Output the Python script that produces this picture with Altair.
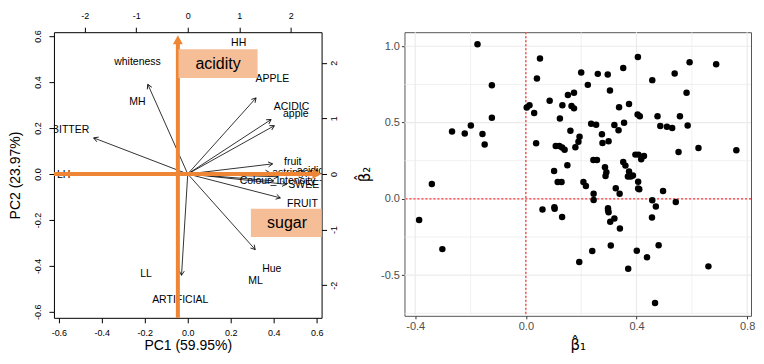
import math
import altair as alt
import pandas as pd

FONT = "Liberation Sans"

# ---------------- left panel: biplot ----------------
arrow_pc1 = [-0.186, -0.438, 0.318, 0.388, 0.403, 0.395, 0.382, 0.420, 0.400, 0.460, 0.431, 0.314, -0.029]
arrow_pc2 = [0.390, 0.157, 0.331, 0.237, 0.210, 0.044, 0.006, -0.012, -0.030, -0.045, -0.104, -0.329, -0.441]

label_text = ["HH", "whiteness", "APPLE", "MH", "ACIDIC", "apple", "BITTER", "LH",
              "fruit", "astringent", "acidic", "Colour_Intensity", "SWEET", "FRUIT",
              "Hue", "ML", "LL", "ARTIFICIAL"]
label_pc1 = [0.237, -0.234, 0.394, -0.234, 0.483, 0.503, -0.545, -0.578,
             0.489, 0.500, 0.570, 0.418, 0.555, 0.534, 0.391, 0.315, -0.194, -0.035]
label_pc2 = [0.572, 0.486, 0.412, 0.312, 0.292, 0.262, 0.192, -0.005,
             0.052, 0.003, 0.014, -0.030, -0.050, -0.129, -0.414, -0.467, -0.434, -0.550]

ax_name = ["acidity", "sugar"]
ax_x0 = [-0.046, -0.623]
ax_y0 = [-0.626, 0.0]
ax_x1 = [-0.046, 0.622]
ax_y1 = [0.604, 0.0]

box_text = ["acidity", "sugar"]
box_x1 = [-0.043, 0.294]
box_x2 = [0.325, 0.626]
box_y1 = [0.418, -0.274]
box_y2 = [0.543, -0.151]
box_tx = [0.141, 0.462]
box_ty = [0.479, -0.214]

pc1_ticks = [-0.6, -0.4, -0.2, 0.0, 0.2, 0.4, 0.6]
pc2_ticks = [-0.6, -0.4, -0.2, 0.0, 0.2, 0.4, 0.6]
top_ticks = [-2, -1, 0, 1, 2]
right_ticks = [-2, -1, 0, 1, 2]

# ---------------- right panel: scatter ----------------
beta1 = [-0.175, -0.123, -0.123, -0.267, -0.221, -0.199, -0.157, -0.149, -0.340, -0.386, -0.302,
         0.051, 0.040, 0.003, 0.013, 0.030, 0.086, 0.037, 0.060, 0.102, 0.103, 0.104, 0.131,
         0.123, 0.132, 0.152, 0.174, 0.165, 0.174, 0.161,
         0.108, 0.121, 0.131, 0.140, 0.115, 0.129, 0.150, 0.179, 0.194, 0.190,
         0.200, 0.224, 0.260, 0.296, 0.304, 0.352, 0.405, 0.337, 0.373, 0.236, 0.254, 0.275,
         0.277, 0.299, 0.320, 0.335, 0.355,
         0.244, 0.257, 0.286, 0.291, 0.288, 0.208, 0.217, 0.245, 0.245, 0.297, 0.297, 0.299,
         0.305, 0.320, 0.340, 0.307, 0.240, 0.193, 0.325, 0.339, 0.352, 0.360,
         0.373, 0.379, 0.387, 0.369,
         0.396, 0.407, 0.427, 0.417, 0.406, 0.406, 0.410, 0.404, 0.412, 0.457, 0.476, 0.486,
         0.510, 0.529, 0.557, 0.538, 0.592, 0.581, 0.585, 0.552, 0.624, 0.688, 0.761, 0.496,
         0.457, 0.470, 0.542, 0.456, 0.480, 0.401, 0.438, 0.370, 0.467, 0.660]
beta2 = [1.013, 0.745, 0.532, 0.442, 0.429, 0.481, 0.425, 0.357, 0.098, -0.139, -0.329,
         0.919, 0.789, 0.599, 0.614, 0.562, 0.643, 0.364, -0.070, 0.183, -0.054, -0.065, -0.118,
         0.527, 0.614, 0.680, 0.695, 0.608, 0.593, 0.447,
         0.346, 0.346, 0.336, 0.322, 0.111, 0.111, 0.220, 0.338, 0.407, 0.375,
         0.828, 0.747, 0.819, 0.815, 0.710, 0.858, 0.930, 0.601, 0.621, 0.492, 0.486, 0.423,
         0.366, 0.377, 0.484, 0.449, 0.499,
         0.255, 0.255, 0.207, 0.174, 0.150, 0.111, 0.085, 0.033, -0.007, -0.061, -0.072, -0.087,
         -0.150, -0.129, -0.194, -0.305, -0.342, -0.414, 0.070, 0.033, 0.242, 0.218,
         0.179, 0.146, 0.153, 0.146,
         0.290, 0.290, 0.281, 0.259, 0.113, 0.068, 0.063, 0.553, 0.542, 0.778, 0.542, 0.477,
         0.473, 0.464, 0.542, 0.821, 0.895, 0.695, 0.481, 0.307, 0.333, 0.882, 0.318, 0.052,
         -0.009, -0.050, -0.020, -0.122, -0.303, -0.340, -0.383, -0.458, -0.682, -0.442]

b1_major = [-0.4, 0.0, 0.4, 0.8]
b1_minor = [-0.2, 0.2, 0.6]
b2_major = [-0.5, 0.0, 0.5, 1.0]
b2_minor = [-0.75, -0.25, 0.25, 0.75]

# ---------------- build left panel ----------------
LW, LH = 268, 286
PC1_DOM = [-0.623, 0.623]
PC2_DOM = [-0.626, 0.617]
sx = LW / (PC1_DOM[1] - PC1_DOM[0])
sy = LH / (PC2_DOM[1] - PC2_DOM[0])

arrows = pd.DataFrame({"x": arrow_pc1, "y": arrow_pc2})
arrows["x0"] = 0.0
arrows["y0"] = 0.0
arrows["ang"] = [(math.degrees(math.atan2(a * sx, b * sy))) % 360 for a, b in zip(arrow_pc1, arrow_pc2)]

labels = pd.DataFrame({"t": label_text, "x": label_pc1, "y": label_pc2})

HEAD = 9.0
oa = pd.DataFrame({"n": ax_name, "x0": ax_x0, "y0": ax_y0, "x1": ax_x1, "y1": ax_y1})
oa["ang"] = [(math.degrees(math.atan2((a1 - a0) * sx, (b1 - b0) * sy))) % 360
             for a0, b0, a1, b1 in zip(ax_x0, ax_y0, ax_x1, ax_y1)]
oa["xs"] = [a1 - ((HEAD - 1) * math.sin(math.radians(g))) / sx for a1, g in zip(ax_x1, oa["ang"])]
oa["ys"] = [b1 - ((HEAD - 1) * math.cos(math.radians(g))) / sy for b1, g in zip(ax_y1, oa["ang"])]

boxes = pd.DataFrame({"t": box_text, "x1": box_x1, "x2": box_x2, "y1": box_y1, "y2": box_y2,
                      "tx": box_tx, "ty": box_ty})

neg1 = "datum.value < 0 ? '-' + format(-datum.value, '.1f') : format(datum.value, '.1f')"
negd = "datum.value < 0 ? '-' + format(-datum.value, 'd') : format(datum.value, 'd')"

xsc = alt.Scale(domain=PC1_DOM, nice=False, zero=False)
ysc = alt.Scale(domain=PC2_DOM, nice=False, zero=False)

common_ax = dict(grid=False, domain=False, tickColor="black", tickSize=5, labelColor="black",
                 labelFont=FONT, labelFontSize=9, titleFont=FONT, titleFontSize=14,
                 titleFontWeight="normal", titleColor="black")

xax = alt.Axis(values=pc1_ticks, labelExpr=neg1, title="PC1 (59.95%)", labelPadding=6,
               titlePadding=1, **common_ax)
yax = alt.Axis(values=pc2_ticks, labelExpr=neg1, title="PC2 (23.97%)", labelAngle=270,
               labelAlign="center", labelBaseline="bottom", labelPadding=6, titlePadding=11,
               **common_ax)

X = lambda f: alt.X(f, type="quantitative", scale=xsc, axis=xax)
Y = lambda f: alt.Y(f, type="quantitative", scale=ysc, axis=yax)

arrow_rules = alt.Chart(arrows).mark_rule(color="black", strokeWidth=0.8).encode(
    x=X("x0"), y=Y("y0"), x2="x", y2="y")
arrow_heads = alt.Chart(arrows).mark_point(
    shape="M-0.5,0.866L0,0L0.5,0.866", filled=False, color="black", strokeWidth=0.8,
    size=100, opacity=1).encode(x=X("x"), y=Y("y"), angle=alt.Angle("ang:Q", scale=None))
label_marks = alt.Chart(labels).mark_text(font=FONT, fontSize=10.5, color="black",
                                          clip=True).encode(x=X("x"), y=Y("y"), text="t:N")
orange_rules = alt.Chart(oa).mark_rule(color="#EE8636", strokeWidth=4, strokeCap="butt").encode(
    x=X("x0"), y=Y("y0"), x2="xs", y2="ys")
orange_heads = alt.Chart(oa).mark_point(
    shape="M0,0L-0.55,1L0.55,1Z", filled=True, color="#EE8636", size=(2 * HEAD) ** 2,
    opacity=1).encode(x=X("x1"), y=Y("y1"), angle=alt.Angle("ang:Q", scale=None))
box_marks = alt.Chart(boxes).mark_rect(color="#F6BE97", opacity=1, clip=True).encode(
    x=X("x1"), x2="x2", y=Y("y1"), y2="y2")
box_text_marks = alt.Chart(boxes).mark_text(font=FONT, fontSize=16, color="black").encode(
    x=X("tx"), y=Y("ty"), text="t:N")

main = alt.layer(arrow_rules, arrow_heads, label_marks, orange_rules, orange_heads,
                 box_marks, box_text_marks)

sec = pd.DataFrame({"t": [-0.623 / 0.24, 0.623 / 0.24], "r": [-0.626 / 0.242, 0.617 / 0.242]})
top_ax = alt.Axis(orient="top", values=top_ticks, labelExpr=negd, title=None, labelPadding=7,
                  **{k: v for k, v in common_ax.items() if not k.startswith("title")})
right_ax = alt.Axis(orient="right", values=right_ticks, labelExpr=negd, title=None,
                    labelAngle=270, labelAlign="center", labelBaseline="top", labelPadding=3,
                    **{k: v for k, v in common_ax.items() if not k.startswith("title")})
secondary = alt.Chart(sec).mark_point(opacity=0).encode(
    x=alt.X("t:Q", scale=alt.Scale(domain=[-0.623 / 0.24, 0.623 / 0.24], nice=False, zero=False), axis=top_ax),
    y=alt.Y("r:Q", scale=alt.Scale(domain=[-0.626 / 0.242, 0.617 / 0.242], nice=False, zero=False), axis=right_ax))

left = alt.layer(main, secondary).resolve_scale(x="independent", y="independent").properties(
    width=LW, height=LH, view=alt.ViewBackground(stroke="black", strokeWidth=1))

# ---------------- build right panel ----------------
RW, RH = 347, 284
bsx = alt.Scale(domain=[-0.439, 0.814], nice=False, zero=False)
bsy = alt.Scale(domain=[-0.766, 1.092], nice=False, zero=False)
r_common = dict(grid=False, domain=False, tickColor="#333333", tickSize=3, labelColor="#4D4D4D",
                labelFont=FONT, labelFontSize=11, titleFont="DejaVu Sans", titleFontSize=15,
                titleFontWeight="normal", titleColor="black")
bx_ax = alt.Axis(values=b1_major, labelExpr=neg1, title="β̂₁", labelPadding=2, titlePadding=6, **r_common)
by_ax = alt.Axis(values=b2_major, labelExpr=neg1, title="β̂₂", labelPadding=2, titlePadding=8, **r_common)
BX = lambda f: alt.X(f, type="quantitative", scale=bsx, axis=bx_ax)
BY = lambda f: alt.Y(f, type="quantitative", scale=bsy, axis=by_ax)

pts = pd.DataFrame({"b1": beta1, "b2": beta2})
gx_min = alt.Chart(pd.DataFrame({"v": b1_minor})).mark_rule(color="#EBEBEB", strokeWidth=0.7).encode(x=BX("v"))
gx_maj = alt.Chart(pd.DataFrame({"v": b1_major})).mark_rule(color="#EBEBEB", strokeWidth=1.2).encode(x=BX("v"))
gy_min = alt.Chart(pd.DataFrame({"v": b2_minor})).mark_rule(color="#EBEBEB", strokeWidth=0.7).encode(y=BY("v"))
gy_maj = alt.Chart(pd.DataFrame({"v": b2_major})).mark_rule(color="#EBEBEB", strokeWidth=1.2).encode(y=BY("v"))
zero_v = alt.Chart(pd.DataFrame({"v": [0.0]})).mark_rule(color="#FF0000", strokeWidth=1, strokeDash=[2, 2]).encode(x=BX("v"))
zero_h = alt.Chart(pd.DataFrame({"v": [0.0]})).mark_rule(color="#FF0000", strokeWidth=1, strokeDash=[2, 2]).encode(y=BY("v"))
dots = alt.Chart(pts).mark_circle(color="black", size=42, opacity=1).encode(x=BX("b1"), y=BY("b2"))

right = alt.layer(gx_min, gx_maj, gy_min, gy_maj, zero_v, zero_h, dots).properties(
    width=RW, height=RH, view=alt.ViewBackground(stroke="#555555", strokeWidth=1))

chart = alt.hconcat(left, right, spacing=17).properties(
    padding={"left": 0, "top": 2, "right": 0, "bottom": 0}, background="white"
).configure_view(stroke=None)

chart.save("out.html", embed_options={"renderer": "svg", "actions": False})
